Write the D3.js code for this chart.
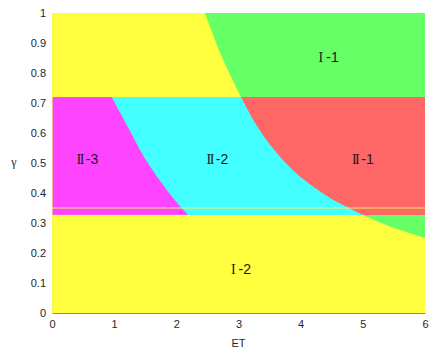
<!DOCTYPE html>
<html>
<head>
<meta charset="utf-8">
<script src="https://cdn.jsdelivr.net/npm/d3@7"></script>
<style>
  body { margin: 0; background: #fff; }
  svg text { font-family: "Liberation Sans", Arial, sans-serif; }
</style>
</head>
<body>
<div id="chart"></div>
<script>
// --- data ---
const xTicks = [0, 1, 2, 3, 4, 5, 6];
const yTicks = [0, 0.1, 0.2, 0.3, 0.4, 0.5, 0.6, 0.7, 0.8, 0.9, 1];
const bandTop = 0.72;      // upper edge of the II band
const bandBottom = 0.327;  // lower edge of the II band
const markLine = 0.35;     // thin horizontal line
// boundary right of which regions I-1 / II-1 lie  [ET, gamma]
const curveOuter = [[2.46, 1.0], [2.72, 0.86], [3.04, 0.72], [3.37, 0.6], [3.76, 0.5],
                    [4.06, 0.443], [4.5, 0.38], [4.78, 0.35], [5.0, 0.327], [5.5, 0.284], [6.0, 0.25]];
// boundary between II-3 and II-2
const curveInner = [[0.96, 0.72], [1.22, 0.62], [1.48, 0.52], [1.74, 0.44], [2.0, 0.37], [2.19, 0.327]];
const regionLabels = [
  { num: "I",  tag: "-1", et: 4.45, g: 0.853 },
  { num: "II", tag: "-1", et: 5.0,  g: 0.513 },
  { num: "II", tag: "-2", et: 2.66, g: 0.513 },
  { num: "II", tag: "-3", et: 0.57, g: 0.513 },
  { num: "I",  tag: "-2", et: 3.04, g: 0.147 }
];
const colors = { yellow: "#ffff40", green: "#66ff66", magenta: "#ff44ff", cyan: "#44ffff", red: "#ff6666" };

const W = 439, H = 357;
const margin = { top: 13, right: 14, bottom: 44, left: 52 };

const svg = d3.select("#chart").append("svg").attr("width", W).attr("height", H);

const x = d3.scaleLinear().domain([0, 6]).range([margin.left, W - margin.right]);
const y = d3.scaleLinear().domain([0, 1]).range([H - margin.bottom, margin.top]);

const line = d3.line().x(d => x(d[0])).y(d => y(d[1])).curve(d3.curveCatmullRom);

// clip for the middle (II) band
svg.append("clipPath").attr("id", "band")
  .append("rect")
  .attr("x", x(0)).attr("y", y(bandTop))
  .attr("width", x(6) - x(0)).attr("height", y(bandBottom) - y(bandTop));

// background: region I (yellow)
svg.append("rect")
  .attr("x", x(0)).attr("y", y(1))
  .attr("width", x(6) - x(0)).attr("height", y(0) - y(1))
  .attr("fill", colors.yellow);

// area to the right of the outer curve
const outerPath = line(curveOuter) + `L${x(6)},${y(1)}Z`;
svg.append("path").attr("d", outerPath).attr("fill", colors.green);

// middle band
const band = svg.append("g").attr("clip-path", "url(#band)");
band.append("rect")
  .attr("x", x(0)).attr("y", y(bandTop))
  .attr("width", x(6) - x(0)).attr("height", y(bandBottom) - y(bandTop))
  .attr("fill", colors.magenta);
band.append("path")
  .attr("d", line(curveInner) + `L${x(6)},${y(bandBottom)}L${x(6)},${y(bandTop)}Z`)
  .attr("fill", colors.cyan);
band.append("path").attr("d", outerPath).attr("fill", colors.red);

// thin line
svg.append("line")
  .attr("x1", x(0)).attr("x2", x(6))
  .attr("y1", y(markLine)).attr("y2", y(markLine))
  .attr("stroke", "#f4f060").attr("stroke-width", 1);

// axes
const xAxis = svg.append("g")
  .attr("transform", `translate(0,${y(0)})`)
  .call(d3.axisBottom(x).tickValues(xTicks).tickFormat(d3.format("d")).tickSize(0).tickPadding(7));
const yAxis = svg.append("g")
  .attr("transform", `translate(${x(0)},0)`)
  .call(d3.axisLeft(y).tickValues(yTicks).tickFormat(d => d === 0 || d === 1 ? d : d.toFixed(1)).tickSize(0).tickPadding(6));
[xAxis, yAxis].forEach(a => {
  a.selectAll("text").attr("font-size", 11).attr("fill", "#262626")
    .attr("font-family", "Liberation Sans, Arial, sans-serif");
});
xAxis.select(".domain").attr("stroke", "#8a8a8a");
yAxis.select(".domain").attr("stroke", "#f0f060").attr("stroke-width", 0.6);

svg.append("text")
  .attr("x", (x(0) + x(6)) / 2).attr("y", 347)
  .attr("text-anchor", "middle").attr("font-size", 11).attr("fill", "#262626")
  .text("ET");
svg.append("text")
  .attr("x", 14).attr("y", y(0.5) + 3)
  .attr("text-anchor", "middle").attr("font-size", 12).attr("fill", "#262626")
  .style("font-family", "Liberation Serif, serif")
  .text("γ");

// region labels
regionLabels.forEach(l => {
  const t = svg.append("text")
    .attr("x", x(l.et)).attr("y", y(l.g) + 5)
    .attr("text-anchor", "middle").attr("font-size", 14).attr("fill", "#1a1a1a");
  t.append("tspan").style("font-family", "Liberation Serif, serif")
    .attr("letter-spacing", l.num === "II" ? -1.5 : 0).text(l.num);
  t.append("tspan").attr("dx", 3).text(l.tag);
});
</script>
</body>
</html>
